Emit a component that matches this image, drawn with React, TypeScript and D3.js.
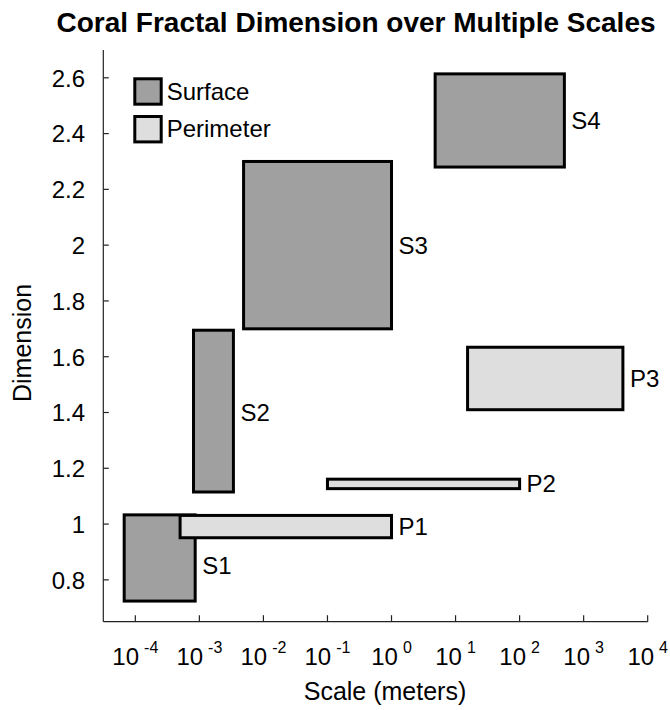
import React from "react";
import * as d3 from "d3";

// Data
const boxNames = ["S1", "S2", "S3", "S4", "P1", "P2", "P3"];
const boxTypes = ["Surface", "Surface", "Surface", "Surface", "Perimeter", "Perimeter", "Perimeter"];
const scaleMin = [6.7e-5, 8.1e-4, 4.9e-3, 4.8, 5.0e-4, 0.1, 15.4];
const scaleMax = [8.6e-4, 3.4e-3, 1, 500, 1, 100, 4100];
const dimMin = [0.724, 1.115, 1.7, 2.28, 0.951, 1.127, 1.41];
const dimMax = [1.033, 1.695, 2.3, 2.614, 1.031, 1.161, 1.634];
const labelDim = [0.85, 1.4, 2.0, 2.445, 0.99, 1.144, 1.52];

const legendNames = ["Surface", "Perimeter"];
const legendFills = ["#a0a0a0", "#dedede"];
const xTickPowers = [-4, -3, -2, -1, 0, 1, 2, 3, 4];
const yTickValues = [0.8, 1, 1.2, 1.4, 1.6, 1.8, 2, 2.2, 2.4, 2.6];

const titleText = "Coral Fractal Dimension over Multiple Scales";
const xLabel = "Scale (meters)";
const yLabel = "Dimension";

const FONT = "'Liberation Sans', Arial, Helvetica, sans-serif";

export default function App() {
  const W = 670, H = 710;
  const x = d3.scaleLog().domain([Math.pow(10, -4.5), 1e4]).range([103.3, 647.7]);
  const y = d3.scaleLinear().domain([0.65, 2.7]).range([621.7, 49.9]);
  const fillFor = (t: string) => legendFills[legendNames.indexOf(t)];
  const fmt = (v: number) => String(Math.round(v * 10) / 10);

  return (
    <svg width={W} height={H} style={{ position: "absolute", left: 0, top: 0, background: "#fff" }} fontFamily={FONT}>
      <rect x={0} y={0} width={W} height={H} fill="#fff" />
      {/* title */}
      <text x={356} y={32} textAnchor="middle" fontSize={28} fontWeight="bold" fill="#000">{titleText}</text>

      {/* boxes */}
      {boxNames.map((n, i) => {
        const x0 = x(scaleMin[i]), x1 = x(scaleMax[i]);
        const y0 = y(dimMax[i]), y1 = y(dimMin[i]);
        return (
          <g key={n}>
            <rect x={x0} y={y0} width={x1 - x0} height={y1 - y0} fill={fillFor(boxTypes[i])} stroke="#000" strokeWidth={3} />
          </g>
        );
      })}
      {boxNames.map((n, i) => (
        <text key={"l" + n} x={x(scaleMax[i]) + 7} y={y(labelDim[i])} dy="0.35em" fontSize={24} fill="#000">{n}</text>
      ))}

      {/* axes */}
      <line x1={103.3} x2={103.3} y1={y(2.7)} y2={y(0.65)} stroke="#222" strokeWidth={1.2} />
      <line x1={103.3} x2={x(1e4)} y1={y(0.65)} y2={y(0.65)} stroke="#222" strokeWidth={1.2} />
      {yTickValues.map((v) => (
        <g key={"yt" + v}>
          <line x1={103.3} x2={108.8} y1={y(v)} y2={y(v)} stroke="#222" strokeWidth={1.2} />
          <text x={85} y={y(v)} dy="0.37em" textAnchor="end" fontSize={24} fill="#000">{fmt(v)}</text>
        </g>
      ))}
      {xTickPowers.map((p) => {
        const xp = x(Math.pow(10, p));
        return (
          <g key={"xt" + p}>
            <line x1={xp} x2={xp} y1={y(0.65)} y2={y(0.65) - 6.5} stroke="#222" strokeWidth={1.2} />
            <text x={xp} y={665} textAnchor="middle" fontSize={24} fill="#000">
              10<tspan dx={5} dy={-12} fontSize={16}>{String(p)}</tspan>
            </text>
          </g>
        );
      })}

      {/* axis labels */}
      <text x={385} y={700} textAnchor="middle" fontSize={25} fill="#000">{xLabel}</text>
      <text transform="translate(31,343) rotate(-90)" textAnchor="middle" fontSize={25} fill="#000">{yLabel}</text>

      {/* legend */}
      {legendNames.map((n, i) => (
        <g key={"lg" + n}>
          <rect x={134.8} y={78.8 + i * 37.7} width={26.4} height={25.4} fill={legendFills[i]} stroke="#000" strokeWidth={3} />
          <text x={166.7} y={99.5 + i * 37.2} fontSize={24} fill="#000">{n}</text>
        </g>
      ))}
    </svg>
  );
}
